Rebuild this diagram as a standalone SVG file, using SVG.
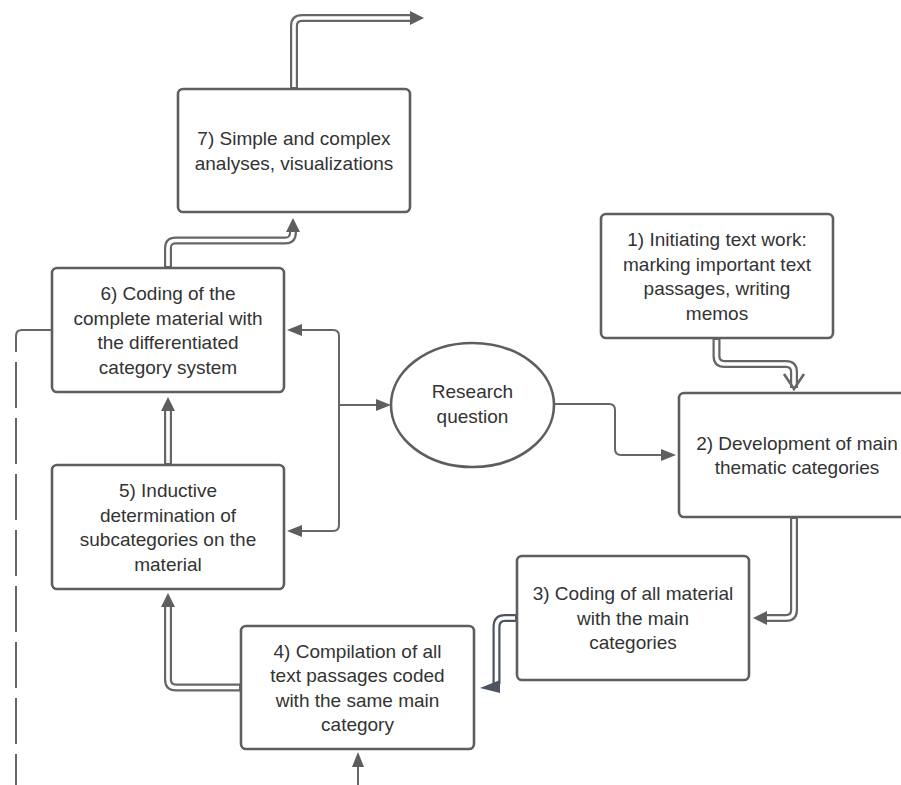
<svg xmlns="http://www.w3.org/2000/svg" width="901" height="785" viewBox="0 0 901 785">
<defs>
<style>
.box{fill:#fff;stroke:#5e5e5e;stroke-width:2.6}
.t{font-family:"Liberation Sans",Arial,sans-serif;font-size:19px;fill:#333;text-anchor:middle}
.dblo{fill:none;stroke:#666;stroke-width:8}
.dbli{fill:none;stroke:#fff;stroke-width:3.6}
.dblo2{fill:none;stroke:#4d5461;stroke-width:8}
.sl{fill:none;stroke:#666;stroke-width:2}
</style>
<marker id="ah" markerUnits="userSpaceOnUse" markerWidth="16" markerHeight="16" refX="0" refY="8" orient="auto" viewBox="0 0 16 16"><path d="M0,1 L14,8 L0,15 z" fill="#5e5e5e"/></marker>
<marker id="as" markerUnits="userSpaceOnUse" markerWidth="16" markerHeight="14" refX="0" refY="7" orient="auto" viewBox="0 0 16 14"><path d="M0,1 L15,7 L0,13 z" fill="#5e5e5e"/></marker>
</defs>
<rect width="901" height="785" fill="#fff"/>
<g id="connectors">
<path class="dblo" d="M294,89 V26 Q294,18 302,18 H410" marker-end="url(#ah)"/>
<path class="dbli" d="M294,87 V26 Q294,18 302,18 H410"/>
<path class="dblo" d="M168,268 V248 Q168,240.5 176,240.5 H285 Q293,240.5 293,232" marker-end="url(#ah)"/>
<path class="dbli" d="M168,266 V248 Q168,240.5 176,240.5 H285 Q293,240.5 293,232"/>
<path class="dblo" d="M716.5,338 V356 Q716.5,364 724.5,364 H786 Q794,364 794,372 V388"/>
<path class="dbli" d="M716.5,340 V356 Q716.5,364 724.5,364 H786 Q794,364 794,372 V388"/>
<path d="M784,374 L794,389 L804,374" fill="none" stroke="#666" stroke-width="2.6"/>
<path class="dblo" d="M794,517 V610 Q794,618 786,618 H767" marker-end="url(#ah)"/>
<path class="dbli" d="M794,519 V610 Q794,618 786,618 H767"/>
<path class="dblo2" d="M517,618 H505 Q496.5,618 496.5,627 V684"/>
<path class="dbli" d="M515,618 H505 Q496.5,618 496.5,627 V684"/>
<polygon points="480,688 500,680 500,693" fill="#4d5461"/>
<path class="dblo" d="M241,687.5 H176 Q168,687.5 168,679.5 V607" marker-end="url(#ah)"/>
<path class="dbli" d="M239,687.5 H176 Q168,687.5 168,679.5 V607"/>
<path class="dblo" d="M168,465 V411" marker-end="url(#ah)"/>
<path class="dbli" d="M168,463 V411"/>
<path class="sl" d="M339,405 H376" marker-end="url(#as)"/>
<path class="sl" d="M339,405 V336 Q339,330 333,330 H302" marker-end="url(#as)"/>
<path class="sl" d="M339,405 V525 Q339,531 333,531 H302" marker-end="url(#as)"/>
<path class="sl" d="M554,404 H609 Q615,404 615,410 V449 Q615,455 621,455 H661" marker-end="url(#as)"/>
<path class="sl" d="M358,785 V767" marker-end="url(#as)"/>
<path class="sl" d="M52,330 H22 Q16,330 16,336 V352"/>
<path class="sl" d="M16,362 V785" stroke-dasharray="46 10"/>
</g>
<g id="n7"><rect class="box" x="178" y="89" width="232" height="123" rx="5"/>
<text class="t" x="294" y="145">7) Simple and complex</text><text class="t" x="294" y="169.5">analyses, visualizations</text></g>
<g id="n6"><rect class="box" x="52" y="268" width="232" height="124" rx="5"/>
<text class="t" x="168" y="300">6) Coding of the</text><text class="t" x="168" y="324.5">complete material with</text><text class="t" x="168" y="349">the differentiated</text><text class="t" x="168" y="373.5">category system</text></g>
<g id="n5"><rect class="box" x="52" y="465" width="232" height="124" rx="5"/>
<text class="t" x="168" y="497">5) Inductive</text><text class="t" x="168" y="521.5">determination of</text><text class="t" x="168" y="546">subcategories on the</text><text class="t" x="168" y="570.5">material</text></g>
<g id="n4"><rect class="box" x="241" y="626" width="233" height="123" rx="5"/>
<text class="t" x="357.5" y="657.5">4) Compilation of all</text><text class="t" x="357.5" y="682">text passages coded</text><text class="t" x="357.5" y="706.5">with the same main</text><text class="t" x="357.5" y="731">category</text></g>
<g id="n3"><rect class="box" x="517" y="556" width="232" height="124" rx="5"/>
<text class="t" x="633" y="600">3) Coding of all material</text><text class="t" x="633" y="624.5">with the main</text><text class="t" x="633" y="649">categories</text></g>
<g id="n2"><rect class="box" x="679" y="393" width="232" height="124" rx="5"/>
<text class="t" x="797" y="449.5">2) Development of main</text><text class="t" x="797" y="474">thematic categories</text></g>
<g id="n1"><rect class="box" x="601" y="214" width="232" height="124" rx="5"/>
<text class="t" x="717" y="246">1) Initiating text work:</text><text class="t" x="717" y="270.5">marking important text</text><text class="t" x="717" y="295">passages, writing</text><text class="t" x="717" y="319.5">memos</text></g>
<g id="rq"><ellipse cx="472.5" cy="405" rx="81.5" ry="62" fill="#fff" stroke="#5e5e5e" stroke-width="2.6"/>
<text class="t" x="472.5" y="398">Research</text><text class="t" x="472.5" y="422.5">question</text></g>
</svg>
